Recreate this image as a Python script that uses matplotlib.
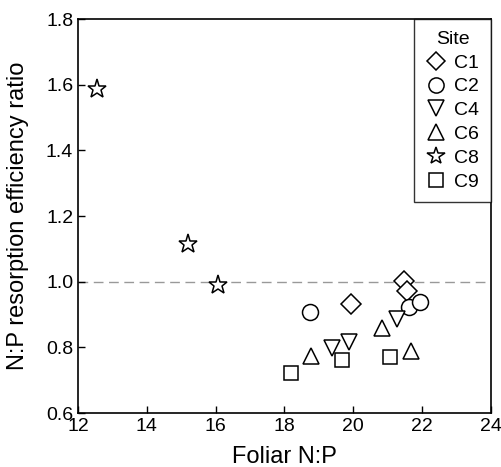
import matplotlib.pyplot as plt

plt.rcParams['font.family'] = ['Liberation Sans', 'DejaVu Sans']

sites = ['C1', 'C2', 'C4', 'C6', 'C8', 'C9']
markers = ['D', 'o', 'v', '^', '*', 's']
sizes = [10, 11.5, 11.5, 11.5, 14, 10]

# Foliar N:P per site
foliar_np = {
    'C1': [19.92, 21.47, 21.57],
    'C2': [18.74, 21.63, 21.94],
    'C4': [19.39, 19.87, 21.28],
    'C6': [18.77, 20.82, 21.69],
    'C8': [12.55, 15.19, 16.06],
    'C9': [18.18, 19.68, 21.08],
}
# N:P resorption efficiency ratio per site
resorption_ratio = {
    'C1': [0.932, 1.003, 0.973],
    'C2': [0.909, 0.924, 0.937],
    'C4': [0.797, 0.817, 0.885],
    'C6': [0.775, 0.858, 0.790],
    'C8': [1.587, 1.115, 0.990],
    'C9': [0.721, 0.762, 0.772],
}

fig = plt.figure(figsize=(5.01, 4.67), dpi=100)
ax = fig.add_axes([0.1557, 0.1156, 0.8243, 0.8437])

ax.axhline(1.0, color='#999999', lw=1.0, ls=(0, (7, 4)), zorder=1)

for site, m, ms in zip(sites, markers, sizes):
    ax.plot(foliar_np[site], resorption_ratio[site], ls='none', marker=m, ms=ms,
            mfc='white', mec='black', mew=1.1, label=site, zorder=3)

ax.set_xlim(12, 24)
ax.set_ylim(0.6, 1.8)
ax.set_xticks(range(12, 25, 2))
ax.set_yticks([0.6, 0.8, 1.0, 1.2, 1.4, 1.6, 1.8])
ax.set_yticklabels(['0.6', '0.8', '1.0', '1.2', '1.4', '1.6', '1.8'])
ax.tick_params(direction='in', length=5, width=1, labelsize=14, top=False, right=False)
for s in ax.spines.values():
    s.set_linewidth(1.2)

ax.set_xlabel('Foliar N:P', fontsize=17, labelpad=8)
ax.set_ylabel('N:P resorption efficiency ratio', fontsize=17, labelpad=12)

leg = ax.legend(title='Site', loc='upper right', borderaxespad=0, fontsize=14,
                title_fontsize=14, handlelength=1.0, handletextpad=0.45,
                labelspacing=0.32, borderpad=0.6, fancybox=False, markerscale=0.95)
leg.get_frame().set_edgecolor('black')
leg.get_frame().set_linewidth(1.0)

plt.savefig('out.png', dpi=100)
